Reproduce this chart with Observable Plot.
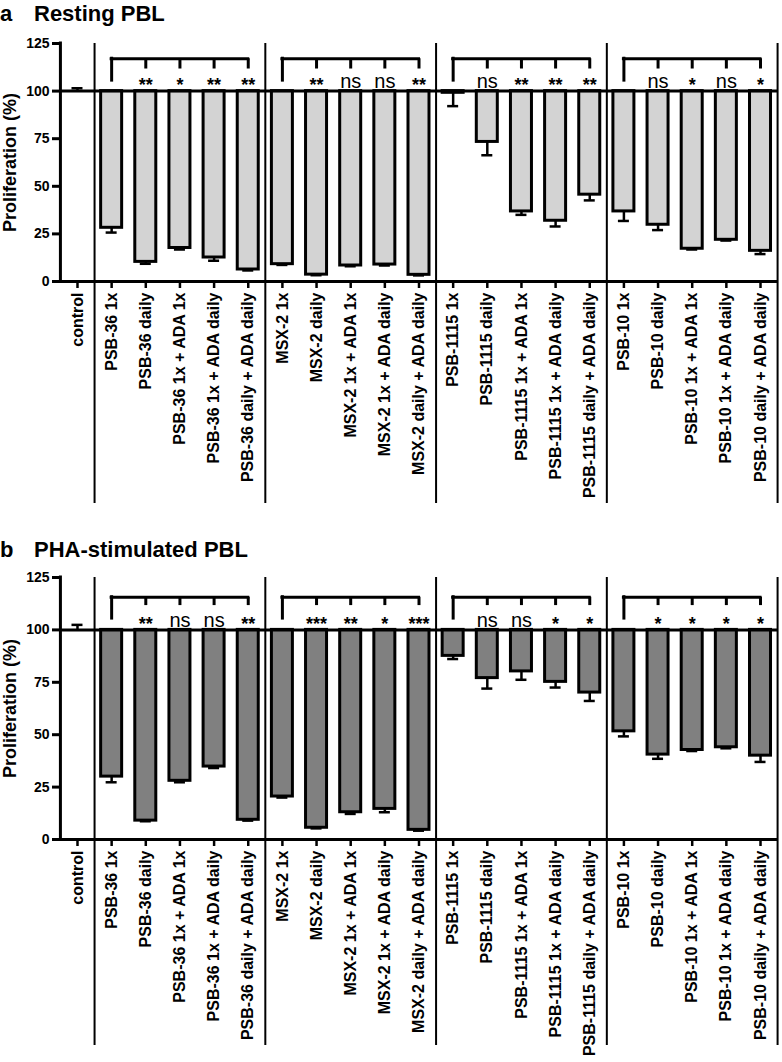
<!DOCTYPE html>
<html><head><meta charset="utf-8">
<script src="https://cdn.jsdelivr.net/npm/d3@7"></script>
<script src="https://cdn.jsdelivr.net/npm/@observablehq/plot@0.6"></script>
<style>
body{margin:0;background:#fff;font-family:'Liberation Sans',Arial,Helvetica,sans-serif;color:#000;}
.title{font-weight:bold;font-size:22px;line-height:22px;box-sizing:border-box;white-space:nowrap;}
.title .lt{display:inline-block;width:34px;}
#ta{height:30px;padding-top:3px;}
#tb{height:60px;padding-top:34px;}
svg{display:block}
</style></head><body>
<div id="ta" class="title"><span class="lt">a</span>Resting PBL</div>
<div id="pa"></div>
<div id="tb" class="title"><span class="lt">b</span>PHA-stimulated PBL</div>
<div id="pb"></div>
<script>
// ---- data ----
const groups = ["PSB-36", "MSX-2", "PSB-1115", "PSB-10"];
const treatments = ["1x", "daily", "1x + ADA 1x", "1x + ADA daily", "daily + ADA daily"];
const categories = ["control", ...groups.flatMap(g => treatments.map(t => g + " " + t))];
const yTicks = [0, 25, 50, 75, 100, 125];
const yLabel = "Proliferation (%)";

const restingMean = [100,
  28.2, 10.3, 17.6, 12.6, 6.3,
  9.1, 3.6, 8.4, 8.9, 3.5,
  99.1, 73.3, 36.8, 31.9, 45.6,
  36.8, 29.8, 17.2, 21.9, 16.1];
const restingErr = [1.5,
  2.5, 1.0, 0.8, 1.7, 0.5,
  0.4, 0.3, 0.4, 0.5, 0.3,
  7.0, 7.0, 1.8, 3.0, 3.0,
  5.0, 2.8, 0.4, 0.4, 1.7];
const restingSig = ["",
  "", "**", "*", "**", "**",
  "", "**", "ns", "ns", "**",
  "", "ns", "**", "**", "**",
  "", "ns", "*", "ns", "*"];

const phaMean = [100,
  30.0, 9.0, 28.0, 34.8, 9.4,
  20.5, 5.6, 13.0, 14.6, 4.6,
  87.6, 77.0, 80.2, 75.2, 70.1,
  51.6, 40.5, 42.7, 44.0, 40.0];
const phaErr = [2.4,
  2.7, 0.3, 0.7, 0.7, 0.4,
  0.5, 0.3, 0.8, 1.6, 0.4,
  1.5, 5.0, 4.0, 2.7, 4.0,
  2.4, 2.0, 0.5, 0.5, 3.0];
const phaSig = ["",
  "", "**", "ns", "ns", "**",
  "", "***", "**", "*", "***",
  "", "ns", "ns", "*", "*",
  "", "*", "*", "*", "*"];

// ---- layout ----
const W = 782, ML = 60, MR = 5;
const PI = 0.385, PO = 0.19;
const step = (W - ML - MR) / (categories.length - PI + 2 * PO);
const bw = step * (1 - PI);
const FONT = "'Liberation Sans', Arial, Helvetica, sans-serif";

function panel({mean, err, sig, fill, height, marginTop, marginBottom, extend, bracketY, legY, tickEnd}) {
  const data = categories.map((c, i) => ({
    c, v: mean[i], e: err[i], s: sig[i],
    lo: mean[i] >= 100 ? mean[i] + err[i] : mean[i] - err[i]
  }));
  const firsts = groups.map(g => g + " " + treatments[0]);
  const lasts = groups.map(g => g + " " + treatments[treatments.length - 1]);
  const others = categories.filter(c => c !== "control" && !firsts.includes(c));
  return Plot.plot({
    width: W, height, marginLeft: ML, marginRight: MR, marginTop, marginBottom,
    style: {fontFamily: FONT, color: "black", background: "white", overflow: "visible"},
    x: {type: "band", domain: categories, paddingInner: PI, paddingOuter: PO, align: 0.5, round: false},
    y: {domain: [0, 125]},
    marks: [
      Plot.barY(data, {x: "c", y1: 100, y2: "v", fill, stroke: "black", strokeWidth: 3}),
      Plot.ruleX(data, {x: "c", y1: "v", y2: "lo", stroke: "black", strokeWidth: 2.5}),
      Plot.tickY(data, {x: "c", y: "lo", stroke: "black", strokeWidth: 2.5, insetLeft: 5, insetRight: 5}),
      Plot.ruleY([100], {stroke: "black", strokeWidth: 3}),
      Plot.ruleY([0], {stroke: "black", strokeWidth: 3}),
      // y axis line
      Plot.ruleX(["control"], {dx: -step / 2, stroke: "black", strokeWidth: 3, strokeLinecap: "square"}),
      // group separators
      Plot.ruleX(firsts, {dx: -step / 2, stroke: "black", strokeWidth: 2, insetBottom: -extend}),
      Plot.ruleX([lasts[lasts.length - 1]], {dx: step / 2, stroke: "black", strokeWidth: 2, insetBottom: -extend}),
      // significance brackets
      Plot.ruleY(groups, {x1: (g, i) => firsts[i], x2: (g, i) => lasts[i], y: bracketY,
        insetLeft: bw / 2, insetRight: bw / 2, stroke: "black", strokeWidth: 3, strokeLinecap: "square"}),
      Plot.ruleX(firsts, {x: d => d, y1: bracketY, y2: legY, stroke: "black", strokeWidth: 3, strokeLinecap: "square"}),
      Plot.ruleX(others, {x: d => d, y1: bracketY, y2: tickEnd, stroke: "black", strokeWidth: 3}),
      Plot.text(data.filter(d => d.s && d.s !== "ns"), {x: "c", y: 100, text: "s", fontSize: 18, fontWeight: "bold", lineAnchor: "bottom"}),
      Plot.text(data.filter(d => d.s === "ns"), {x: "c", y: 101.5, text: "s", fontSize: 20, fontWeight: "normal", lineAnchor: "bottom"}),
      // axes
      Plot.axisY({ticks: yTicks, tickSize: 8, tickPadding: 3, fontSize: 14, fontWeight: "bold", strokeWidth: 3, label: null}),
      Plot.axisX({tickRotate: -90, tickSize: 7, tickPadding: 4, fontSize: 16, fontWeight: "bold", strokeWidth: 2.5, label: null}),
      Plot.text([yLabel], {frameAnchor: "left", dx: -50, rotate: -90, text: d => d, fontSize: 18, fontWeight: "bold", textAnchor: "middle", lineAnchor: "middle"})
    ]
  });
}

document.getElementById("pa").append(panel({
  mean: restingMean, err: restingErr, sig: restingSig, fill: "#d3d3d3",
  height: 475, marginTop: 13, marginBottom: 224, extend: 222,
  bracketY: 117, legY: 105.5, tickEnd: 111.6
}));
document.getElementById("pb").append(panel({
  mean: phaMean, err: phaErr, sig: phaSig, fill: "#808080",
  height: 497, marginTop: 12, marginBottom: 223, extend: 206,
  bracketY: 115.6, legY: 105.4, tickEnd: 111.6
}));
</script></body></html>
